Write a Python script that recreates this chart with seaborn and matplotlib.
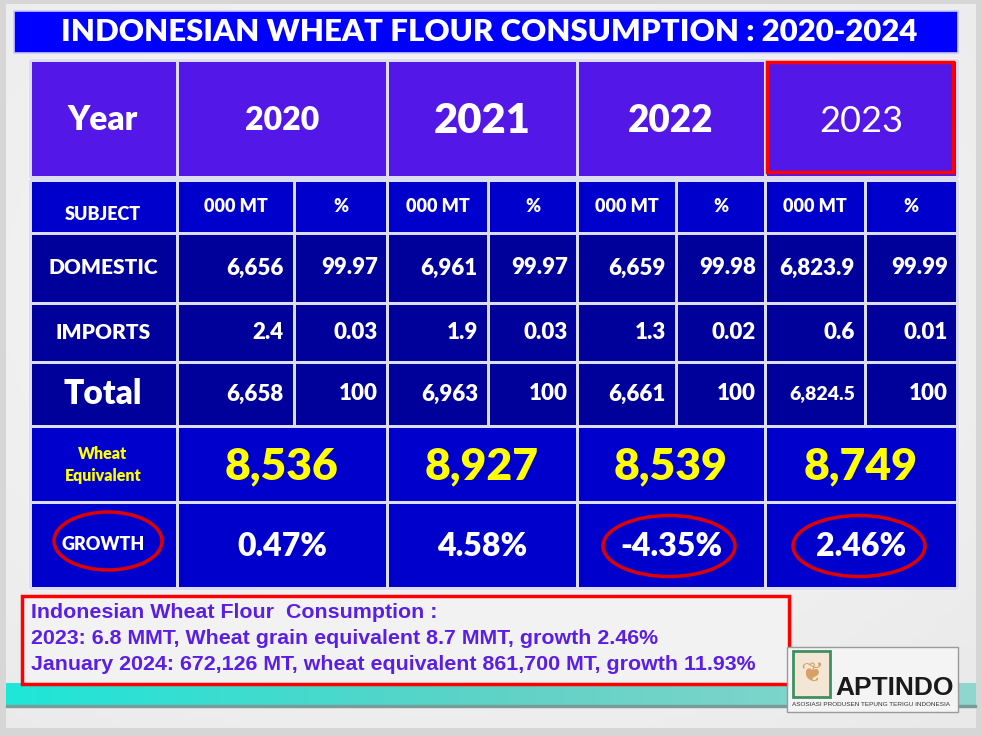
import numpy as np
import matplotlib.pyplot as plt
import seaborn as sns
from matplotlib.colors import ListedColormap
from matplotlib.patches import Rectangle, Ellipse

# Data
years = ["2020", "2021", "2022", "2023"]
domestic_kt = [6656, 6961, 6659, 6823.9]
domestic_pct = [99.97, 99.97, 99.98, 99.99]
imports_kt = [2.4, 1.9, 1.3, 0.6]
imports_pct = [0.03, 0.03, 0.02, 0.01]
total_kt = [6658, 6963, 6661, 6824.5]
total_pct = [100, 100, 100, 100]
wheat_equiv = [8536, 8927, 8539, 8749]
growth_pct = [0.47, 4.58, -4.35, 2.46]
row_labels = ["DOMESTIC", "IMPORTS", "Total"]
unit_labels = ["000 MT", "%"]
circled_years = ["2022", "2023"]
title = "INDONESIAN WHEAT FLOUR CONSUMPTION : 2020-2024"
notes = [
    "Indonesian Wheat Flour  Consumption :",
    "2023: 6.8 MMT, Wheat grain equivalent 8.7 MMT, growth 2.46%",
    "January 2024: 672,126 MT, wheat equivalent 861,700 MT, growth 11.93%",
]

# Layout (pixels)
col_edges = [30, 177, 387, 577, 765, 957]
sub_edges = [30, 177, 294, 387, 488, 577, 676, 765, 865, 957]
head_y = [60, 177]
mid_y = [180, 233, 303, 362, 426]
low_y = [426, 502, 588]

purple = "#5318E8"
bright = "#0000CC"
dark = "#00009A"
line = "#DCDCF2"
W = "heavy"

sns.set_theme(style="white")
plt.rcParams["font.family"] = ["Lato", "DejaVu Sans"]

fig = plt.figure(figsize=(9.82, 7.36), dpi=100)
fig.patch.set_facecolor("#D6D6D6")
ax = fig.add_axes([0, 0, 1, 1])
ax.set_xlim(0, 982)
ax.set_ylim(736, 0)
ax.axis("off")

# slide background
gx = np.linspace(0, 1, 200)
gy = np.linspace(0, 1, 150)
gg = 0.95 - 0.06 * ((gx[None, :] - 0.45) ** 2 + (gy[:, None] - 0.4) ** 2)
ax.imshow(gg, cmap="gray", vmin=0, vmax=1, extent=[6, 976, 728, 4], aspect="auto", zorder=0)

# teal band
band = np.linspace(0, 1, 300)[None, :]
teal = ListedColormap(sns.blend_palette(["#1EE6D8", "#5FD2C6", "#8FD6CE"], 64))
ax.imshow(band, cmap=teal, extent=[6, 976, 705, 683], aspect="auto", zorder=1)
ax.add_patch(Rectangle((6, 705), 970, 2, color="#7A9C98", zorder=1))

# title bar
ax.add_patch(Rectangle((14, 11), 944, 42, facecolor="#0000FF", edgecolor="#C8C8FF", lw=1.2, zorder=2))
ax.text(489, 32, title, color="white", fontsize=22.4, fontweight=W, ha="center", va="center", zorder=3)

# table backing
ax.add_patch(Rectangle((29, 59), 929, 530, facecolor="white", zorder=2))

# header row
ax.pcolormesh(col_edges, head_y, np.zeros((1, 5)), cmap=ListedColormap([purple]),
              edgecolors=line, linewidth=0.9, zorder=3)
ax.text(103, 120, "Year", color="white", fontsize=24, fontweight=W, ha="center", va="center", zorder=4)
year_sizes = [23, 30, 26.5, 26]
year_weights = [W, W, W, "normal"]
for i, y in enumerate(years):
    cx = (col_edges[i + 1] + col_edges[i + 2]) / 2
    ax.text(cx, 121, y, color="white", fontsize=year_sizes[i], fontweight=year_weights[i],
            ha="center", va="center", zorder=4)
ax.add_patch(Rectangle((767, 62), 186, 110, fill=False, edgecolor="#FF0000", lw=2.5, zorder=5))

# middle block: subject + data rows
mid_codes = np.array([[0] * 9, [1] * 9, [1] * 9, [1] * 9])
ax.pcolormesh(sub_edges, mid_y, mid_codes, cmap=ListedColormap([bright, dark]),
              edgecolors=line, linewidth=0.9, zorder=3)
ax.text(103, 215, "SUBJECT", color="white", fontsize=13, fontweight=W, ha="center", va="center", zorder=4)
for i in range(4):
    for j, u in enumerate(unit_labels):
        x0, x1 = sub_edges[1 + 2 * i + j], sub_edges[2 + 2 * i + j]
        ax.text((x0 + x1) / 2, 207, u, color="white", fontsize=13, fontweight=W,
                ha="center", va="center", zorder=4)


def fmt(v):
    return f"{v:,.1f}" if v % 1 else f"{v:,.0f}"


rows = [(domestic_kt, domestic_pct), (imports_kt, imports_pct), (total_kt, total_pct)]
label_sizes = [15, 15, 24]
for r, (kt, pct) in enumerate(rows):
    cy = (mid_y[r + 1] + mid_y[r + 2]) / 2
    ax.text(103, cy, row_labels[r], color="white", fontsize=label_sizes[r], fontweight=W,
            ha="center", va="center", zorder=4)
    for i in range(4):
        kt_size = 14 if (kt[i] % 1 and kt[i] > 1000 and r == 2) else 16
        ax.text(sub_edges[2 + 2 * i] - 10, cy, fmt(kt[i]), color="white", fontsize=kt_size,
                fontweight=W, ha="right", va="center", zorder=4)
        ax.text(sub_edges[3 + 2 * i] - 9, cy, f"{pct[i]:g}", color="white", fontsize=16,
                fontweight=W, ha="right", va="center", zorder=4)

# wheat equivalent + growth rows
ax.pcolormesh(col_edges, low_y, np.zeros((2, 5)), cmap=ListedColormap([bright]),
              edgecolors=line, linewidth=0.9, zorder=3)
ax.text(103, 465, "Wheat\nEquivalent", color="#FFFF00", fontsize=11.5, fontweight=W,
        ha="center", va="center", linespacing=1.5, zorder=4)
ax.text(103, 545, "GROWTH", color="white", fontsize=13, fontweight=W, ha="center", va="center", zorder=4)
ax.add_patch(Ellipse((108, 541), 108, 58, fill=False, edgecolor="#E00000", lw=2.5, zorder=5))
for i in range(4):
    cx = (col_edges[i + 1] + col_edges[i + 2]) / 2
    ax.text(cx, 466, f"{wheat_equiv[i]:,}", color="#FFFF00", fontsize=32, fontweight=W,
            ha="center", va="center", zorder=4)
    ax.text(cx, 546, f"{growth_pct[i]:.2f}%", color="white", fontsize=23, fontweight=W,
            ha="center", va="center", zorder=4)
    if years[i] in circled_years:
        ax.add_patch(Ellipse((cx - 2, 546), 132, 61, fill=False, edgecolor="#E00000", lw=2.5, zorder=5))

# notes box
ax.add_patch(Rectangle((22, 596), 767, 88, facecolor="#F2F2F2", edgecolor="#FF0000", lw=2.5, zorder=4))
for k, t in enumerate(notes):
    ax.text(31, 613 + k * 26, t, color="#5A1EE6", fontsize=15.4, fontweight="bold",
            family=["Liberation Sans", "DejaVu Sans"], ha="left", va="center", zorder=5)

# logo
ax.add_patch(Rectangle((787, 647), 171, 65, facecolor="#F4F4F4", edgecolor="#9A9A9A", lw=1, zorder=4))
ax.add_patch(Rectangle((793, 651), 37, 46, facecolor="#F3E6D4", edgecolor="#3F8F62", lw=2, zorder=5))
ax.text(812, 674, "\u2766", color="#D9A066", fontsize=20, ha="center", va="center", zorder=6)
ax.text(895, 688, "APTINDO", color="#1A1A1A", fontsize=19, fontweight="bold",
        family=["Liberation Sans", "DejaVu Sans"], ha="center", va="center", zorder=5)
ax.text(871, 704, "ASOSIASI PRODUSEN TEPUNG TERIGU INDONESIA", color="#333333", fontsize=4.6,
        family=["Liberation Sans Narrow", "Liberation Sans", "DejaVu Sans"], ha="center", va="center", zorder=5)

fig.savefig("out.png", dpi=100)
